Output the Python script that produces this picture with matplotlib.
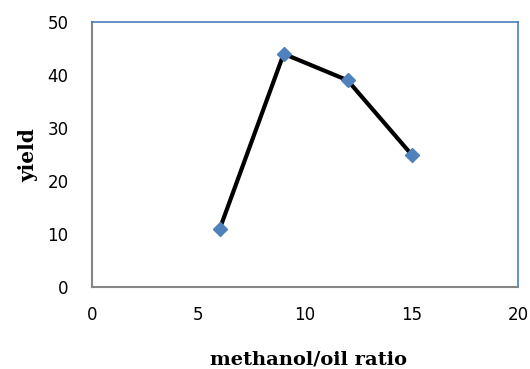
import matplotlib
matplotlib.use("Agg")
import matplotlib.pyplot as plt

# Methanol/oil molar ratio vs. biodiesel yield
ratio = [6, 9, 12, 15]
yield_pct = [11, 44, 39, 25]
x_ticks = [0, 5, 10, 15, 20]
y_ticks = [0, 10, 20, 30, 40, 50]

W, H = 530, 369
fig = plt.figure(figsize=(W / 100, H / 100), dpi=100)
ax = fig.add_axes([92 / W, 1 - 287 / H, 426 / W, 265 / H])

ax.plot(ratio, yield_pct, color="black", linewidth=3, zorder=2)
ax.plot(ratio, yield_pct, linestyle="none", marker="D", markersize=7,
        color="#4f81bd", markeredgecolor="#4f81bd", zorder=3)

ax.set_xlim(0, 20)
ax.set_ylim(0, 50)
ax.set_xticks(x_ticks)
ax.set_yticks(y_ticks)
ax.tick_params(length=0, labelsize=12)
ax.tick_params(axis="y", pad=17)
ax.tick_params(axis="x", pad=14)
for lab in ax.get_xticklabels() + ax.get_yticklabels():
    lab.set_fontfamily("DejaVu Sans")

for side in ("left", "bottom"):
    ax.spines[side].set_color("#868686")
    ax.spines[side].set_linewidth(1.5)
for side in ("top", "right"):
    ax.spines[side].set_color("#4a7ebb")
    ax.spines[side].set_linewidth(1.2)

fig.text(309 / W, 1 - 360 / H, "methanol/oil ratio", fontfamily="DejaVu Serif",
         fontweight="bold", fontsize=14, ha="center", va="center")
fig.text(28 / W, 1 - 155 / H, "yield", fontfamily="DejaVu Serif",
         fontweight="bold", fontsize=14.5, ha="center", va="center",
         rotation=90)

fig.savefig("out.png", dpi=100)
